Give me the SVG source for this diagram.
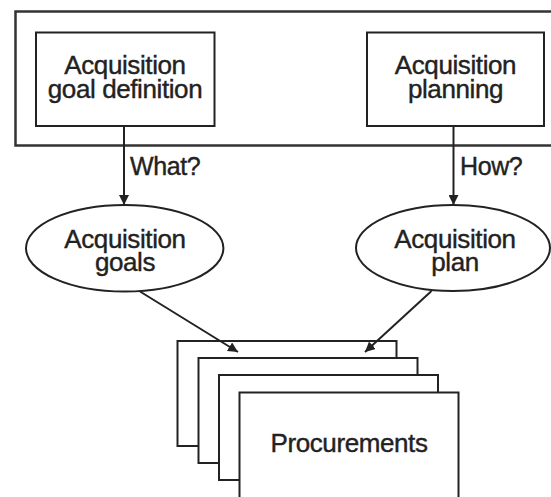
<svg xmlns="http://www.w3.org/2000/svg" width="551" height="497" viewBox="0 0 551 497">
<defs>
<marker id="ah" viewBox="0 0 10 10" refX="10" refY="5" markerWidth="5" markerHeight="5" orient="auto" markerUnits="strokeWidth">
<path d="M0,0 L10,5 L0,10 z" fill="#222"/>
</marker>
<style>
.box{fill:#fff;stroke:#222;stroke-width:2}
.t{font-family:"Liberation Sans",Arial,sans-serif;font-size:26px;letter-spacing:-0.4px;fill:#222;stroke:#222;stroke-width:0.4;text-anchor:middle}
.lbl{font-family:"Liberation Sans",Arial,sans-serif;font-size:25px;letter-spacing:-0.4px;fill:#222;stroke:#222;stroke-width:0.4}
.c{fill:none;stroke:#222;stroke-width:2;marker-end:url(#ah)}
</style>
</defs>
<rect id="frame" x="15.5" y="11.5" width="560" height="134" fill="#fff" stroke="#333" stroke-width="2.5"/>
<g id="goal-definition">
<rect class="box" x="36" y="32.5" width="178.5" height="93.5"/>
<text class="t" x="125" y="73.5">Acquisition</text>
<text class="t" x="125" y="97.5">goal definition</text>
</g>
<g id="planning">
<rect class="box" x="367" y="32.5" width="177" height="93.5"/>
<text class="t" x="455.5" y="73.5">Acquisition</text>
<text class="t" x="455.5" y="97.5">planning</text>
</g>
<g id="goals">
<ellipse class="box" cx="124.7" cy="248.3" rx="98.7" ry="43.3"/>
<text class="t" x="125" y="248">Acquisition</text>
<text class="t" x="125" y="271">goals</text>
</g>
<g id="plan">
<ellipse class="box" cx="453" cy="248" rx="97" ry="43"/>
<text class="t" x="455" y="248">Acquisition</text>
<text class="t" x="455" y="271">plan</text>
</g>
<g id="procurements">
<rect class="box" x="177.5" y="341" width="219" height="105"/>
<rect class="box" x="198.5" y="358" width="219" height="105"/>
<rect class="box" x="219" y="375" width="219" height="105"/>
<rect class="box" x="239.5" y="392.5" width="219" height="106"/>
<text class="t" x="349" y="452">Procurements</text>
</g>
<g id="connectors">
<line class="c" x1="124" y1="126" x2="124" y2="205"/>
<line class="c" x1="453.5" y1="126" x2="453.5" y2="205"/>
<line class="c" x1="140" y1="291.5" x2="238" y2="352"/>
<line class="c" x1="431.5" y1="291" x2="365" y2="352"/>
<text class="lbl" x="130" y="175">What?</text>
<text class="lbl" x="460" y="175">How?</text>
</g>
</svg>
